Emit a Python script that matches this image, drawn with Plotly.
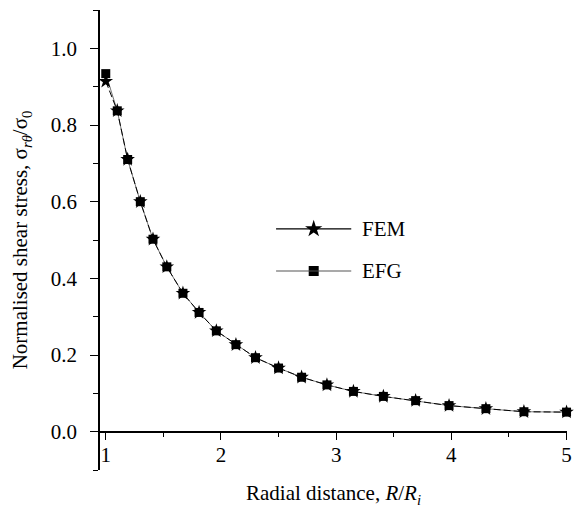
import plotly.graph_objects as go

# ---- data ----
r_ratio = [1.00, 1.10, 1.19, 1.30, 1.41, 1.53, 1.67, 1.81, 1.96, 2.13, 2.30,
           2.50, 2.70, 2.92, 3.15, 3.41, 3.69, 3.98, 4.30, 4.63, 5.00]
fem_stress = [0.914, 0.837, 0.710, 0.600, 0.502, 0.430, 0.361, 0.311, 0.263, 0.227, 0.193,
              0.166, 0.142, 0.122, 0.105, 0.092, 0.081, 0.068, 0.060, 0.052, 0.051]
efg_stress = [0.934, 0.837, 0.710, 0.600, 0.502, 0.430, 0.361, 0.311, 0.263, 0.227, 0.193,
              0.166, 0.142, 0.122, 0.105, 0.092, 0.081, 0.068, 0.060, 0.052, 0.051]
series_names = ["FEM", "EFG"]
x_ticks = [1, 2, 3, 4, 5]
y_ticks = [0.0, 0.2, 0.4, 0.6, 0.8, 1.0]
y_tick_text = ["0.0", "0.2", "0.4", "0.6", "0.8", "1.0"]

FONT = "Liberation Serif"
FS = 21
x_range = [0.95, 5.004]
y_range = [-0.1, 1.1]

fig = go.Figure()

fig.add_trace(go.Scatter(
    x=r_ratio, y=efg_stress, mode="lines+markers", name=series_names[1],
    line=dict(color="#777777", width=1),
    marker=dict(symbol="square", size=9, color="black"),
    cliponaxis=False, showlegend=False))
fig.add_trace(go.Scatter(
    x=r_ratio, y=fem_stress, mode="lines+markers", name=series_names[0],
    line=dict(color="black", width=1, dash="7px,3px"),
    marker=dict(symbol="star", size=11, color="black"),
    cliponaxis=False, showlegend=False))

# ---- manual legend (overlay axis spanning the plot area) ----
leg_x0, leg_x1, leg_mx, leg_tx = 0.377, 0.538, 0.4576, 0.557
leg_y = [0.524, 0.4326]
leg_line_colors = ["black", "#555555"]
leg_symbols = ["star", "square"]
leg_sizes = [13, 10]
for i in range(2):
    fig.add_shape(type="line", xref="paper", yref="paper",
                  x0=leg_x0, x1=leg_x1, y0=leg_y[i], y1=leg_y[i],
                  line=dict(color=leg_line_colors[i], width=1.2))
    fig.add_trace(go.Scatter(
        x=[leg_mx], y=[leg_y[i]], xaxis="x2", yaxis="y2", mode="markers",
        marker=dict(symbol=leg_symbols[i], size=leg_sizes[i], color="black"),
        showlegend=False, hoverinfo="skip"))
    fig.add_annotation(xref="paper", yref="paper", x=leg_tx, y=leg_y[i],
                       text=series_names[i], showarrow=False, xanchor="left",
                       yanchor="middle", font=dict(family=FONT, size=FS, color="black"))

x_pos = (0 - y_range[0]) / (y_range[1] - y_range[0])

fig.update_layout(
    width=578, height=512,
    margin=dict(l=100, r=6, t=10, b=42),
    paper_bgcolor="white", plot_bgcolor="white",
    font=dict(family=FONT, size=FS, color="black"),
    showlegend=False,
    xaxis=dict(
        range=x_range, anchor="free", position=x_pos,
        tickmode="array", tickvals=x_ticks, ticktext=[str(v) for v in x_ticks],
        ticks="outside", ticklen=8, tickwidth=1.3, tickcolor="black",
        minor=dict(dtick=0.5, tick0=0.5, ticks="outside", ticklen=5, tickwidth=1.3, tickcolor="black"),
        showline=True, linecolor="black", linewidth=1.5,
        showgrid=False, zeroline=False, ticklabelstandoff=-4,
        tickfont=dict(family=FONT, size=FS),
        title=dict(text="Radial distance, <i>R</i>/<i>R<sub>i</sub></i>",
                   font=dict(family=FONT, size=FS), standoff=19),
    ),
    yaxis=dict(
        range=y_range,
        tickmode="array", tickvals=y_ticks, ticktext=y_tick_text,
        ticks="outside", ticklen=8, tickwidth=1.3, tickcolor="black",
        minor=dict(dtick=0.1, tick0=0.1, ticks="outside", ticklen=5, tickwidth=1.3, tickcolor="black"),
        showline=True, linecolor="black", linewidth=1.5,
        showgrid=False, zeroline=False, ticklabelstandoff=9,
        tickfont=dict(family=FONT, size=FS),
        title=dict(text="Normalised shear stress, σ<sub><i>rθ</i></sub>/σ<sub>0</sub>",
                   font=dict(family=FONT, size=FS), standoff=17),
    ),
    xaxis2=dict(range=[0, 1], overlaying="x", anchor="y2", visible=False, domain=[0, 1]),
    yaxis2=dict(range=[0, 1], overlaying="y", anchor="x2", visible=False, domain=[0, 1]),
)

fig.write_html("out.html", config={"displayModeBar": False},
               post_script="document.body.style.margin='0px';")
